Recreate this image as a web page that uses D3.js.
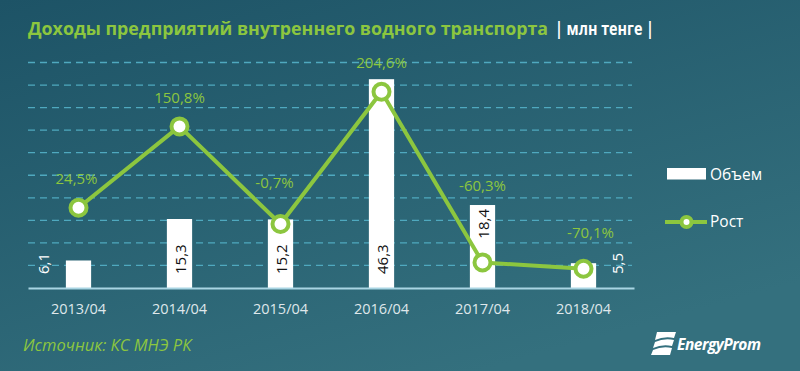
<!DOCTYPE html>
<html>
<head>
<meta charset="utf-8">
<script src="https://cdn.jsdelivr.net/npm/d3@7"></script>
<style>
  html, body { margin: 0; padding: 0; background: #275f70; }
  svg { display: block; }
</style>
</head>
<body>
<script>
const periods = ["2013/04", "2014/04", "2015/04", "2016/04", "2017/04", "2018/04"];
const volume = [6.1, 15.3, 15.2, 46.3, 18.4, 5.5];
const growth = [24.5, 150.8, -0.7, 204.6, -60.3, -70.1];
const volumeTicks = [5, 10, 15, 20, 25, 30, 35, 40, 45, 50];

const width = 800;
const height = 371;
const baseY = 288;
const topY = 62.5;
const green = "#8cc63f";
const font = "'Open Sans', 'DejaVu Sans', sans-serif";

const svg = d3.select("body")
  .append("svg")
  .attr("width", width)
  .attr("height", height)
  .attr("viewBox", `0 0 ${width} ${height}`);

const defs = svg.append("defs");
const grad = defs.append("linearGradient")
  .attr("id", "bg")
  .attr("x1", "0").attr("y1", "0")
  .attr("x2", "0.6").attr("y2", "1");
grad.append("stop").attr("offset", "0%").attr("stop-color", "#1d5366");
grad.append("stop").attr("offset", "100%").attr("stop-color", "#34707e");

svg.append("rect")
  .attr("width", width)
  .attr("height", height)
  .attr("fill", "url(#bg)");

// title, stretched to the original widths
svg.append("text")
  .attr("x", 28)
  .attr("y", 35)
  .attr("fill", green)
  .attr("font-family", font)
  .attr("font-size", 17.5)
  .attr("font-weight", 700)
  .attr("textLength", 520)
  .attr("lengthAdjust", "spacingAndGlyphs")
  .text("Доходы предприятий внутреннего водного транспорта");
svg.append("text")
  .attr("x", 555)
  .attr("y", 35)
  .attr("fill", "#ffffff")
  .attr("font-family", font)
  .attr("font-size", 17)
  .attr("font-weight", 700)
  .attr("textLength", 99)
  .attr("lengthAdjust", "spacingAndGlyphs")
  .text("| млн тенге |");

const x = d3.scaleBand()
  .domain(periods)
  .range([28, 634])
  .paddingInner(0.75)
  .paddingOuter(0.375);

const yBar = d3.scaleLinear().domain([0, 50]).range([baseY, topY]);
const yLine = d3.scaleLinear().domain([-100, 250]).range([baseY, topY]);
const cx = (d) => x(d) + x.bandwidth() / 2;

// dashed grid
svg.append("g")
  .selectAll("line")
  .data(volumeTicks)
  .join("line")
  .attr("x1", 28)
  .attr("x2", 632)
  .attr("y1", (d) => yBar(d))
  .attr("y2", (d) => yBar(d))
  .attr("stroke", "#4fa9bf")
  .attr("stroke-width", 1.3)
  .attr("stroke-dasharray", "7,5");

// bars
svg.append("g")
  .selectAll("rect")
  .data(periods)
  .join("rect")
  .attr("x", (d) => x(d))
  .attr("y", (d, i) => yBar(volume[i]))
  .attr("width", x.bandwidth())
  .attr("height", (d, i) => baseY - yBar(volume[i]))
  .attr("fill", "#ffffff");

// x axis
const axis = svg.append("g")
  .attr("transform", `translate(0,${baseY})`)
  .call(d3.axisBottom(x).tickSize(0).tickSizeOuter(0));
axis.select(".domain")
  .attr("stroke", "#a9d5e3")
  .attr("stroke-width", 2);
axis.selectAll(".tick text")
  .attr("y", 26)
  .attr("dy", 0)
  .attr("fill", "#dfe7eb")
  .attr("font-family", font)
  .attr("font-size", 14.5);

// bar value labels (rotated)
const barLabelMode = ["left", "inside", "inside", "inside", "top", "right"];
svg.append("g")
  .selectAll("text")
  .data(periods)
  .join("text")
  .attr("transform", (d, i) => {
    const mode = barLabelMode[i];
    let px = cx(d);
    let py = baseY - 14;
    if (mode === "left") px -= 36;
    if (mode === "right") px += 33;
    if (mode === "top") py = yBar(volume[i]) + 4;
    return `translate(${px},${py}) rotate(-90)`;
  })
  .attr("text-anchor", (d, i) => (barLabelMode[i] === "top" ? "end" : "start"))
  .attr("dominant-baseline", "central")
  .attr("fill", (d, i) => (barLabelMode[i] === "left" || barLabelMode[i] === "right" ? "#ffffff" : "#111111"))
  .attr("font-family", font)
  .attr("font-size", 15)
  .text((d, i) => d3.format(".1f")(volume[i]).replace(".", ","));

// growth line
const line = d3.line()
  .x((d, i) => cx(periods[i]))
  .y((d) => yLine(d));

svg.append("path")
  .datum(growth)
  .attr("d", line)
  .attr("fill", "none")
  .attr("stroke", green)
  .attr("stroke-width", 4)
  .attr("stroke-linejoin", "round");

svg.append("g")
  .selectAll("circle")
  .data(growth)
  .join("circle")
  .attr("cx", (d, i) => cx(periods[i]))
  .attr("cy", (d) => yLine(d))
  .attr("r", 8)
  .attr("fill", "#ffffff")
  .attr("stroke", green)
  .attr("stroke-width", 4);

// growth labels, nudged like the original
const growthNudge = [[-2, -30], [0, -29], [-6, -42], [0, -30], [0, -77], [7, -37]];
svg.append("g")
  .selectAll("text")
  .data(growth)
  .join("text")
  .attr("x", (d, i) => cx(periods[i]) + growthNudge[i][0])
  .attr("y", (d, i) => yLine(d) + growthNudge[i][1])
  .attr("text-anchor", "middle")
  .attr("dominant-baseline", "central")
  .attr("fill", green)
  .attr("font-family", font)
  .attr("font-size", 15)
  .text((d) => d3.format(".1f")(d).replace(".", ",").replace("−", "-") + "%");

// legend
const legend = svg.append("g");
legend.append("rect")
  .attr("x", 667)
  .attr("y", 168)
  .attr("width", 39)
  .attr("height", 11.5)
  .attr("fill", "#ffffff");
legend.append("text")
  .attr("x", 710)
  .attr("y", 174)
  .attr("dominant-baseline", "central")
  .attr("fill", "#ffffff")
  .attr("font-family", font)
  .attr("font-size", 15.5)
  .text("Объем");
legend.append("line")
  .attr("x1", 665)
  .attr("x2", 707)
  .attr("y1", 222)
  .attr("y2", 222)
  .attr("stroke", green)
  .attr("stroke-width", 4);
legend.append("circle")
  .attr("cx", 686.5)
  .attr("cy", 222)
  .attr("r", 5)
  .attr("fill", "#ffffff")
  .attr("stroke", green)
  .attr("stroke-width", 4);
legend.append("text")
  .attr("x", 710)
  .attr("y", 221)
  .attr("dominant-baseline", "central")
  .attr("fill", "#ffffff")
  .attr("font-family", font)
  .attr("font-size", 15.5)
  .text("Рост");

// source
svg.append("text")
  .attr("x", 23)
  .attr("y", 351)
  .attr("fill", green)
  .attr("font-family", font)
  .attr("font-size", 16.5)
  .attr("font-style", "italic")
  .text("Источник: КС МНЭ РК");

// logo
const logo = svg.append("g").attr("fill", "#ffffff");
logo.append("path").attr("d", "M657,332 L676,332 L674,338 Q664,336 655,340 Z");
logo.append("path").attr("d", "M655,342 Q664,338 674,340 L672,346 Q662,344 653,348 Z");
logo.append("path").attr("d", "M653,350 Q662,346 672,348 L670,355 L651,355 Z");
logo.append("text")
  .attr("x", 677)
  .attr("y", 350)
  .attr("font-family", font)
  .attr("font-size", 15.5)
  .attr("font-weight", 700)
  .attr("font-style", "italic")
  .attr("letter-spacing", -0.5)
  .text("EnergyProm");
</script>
</body>
</html>
